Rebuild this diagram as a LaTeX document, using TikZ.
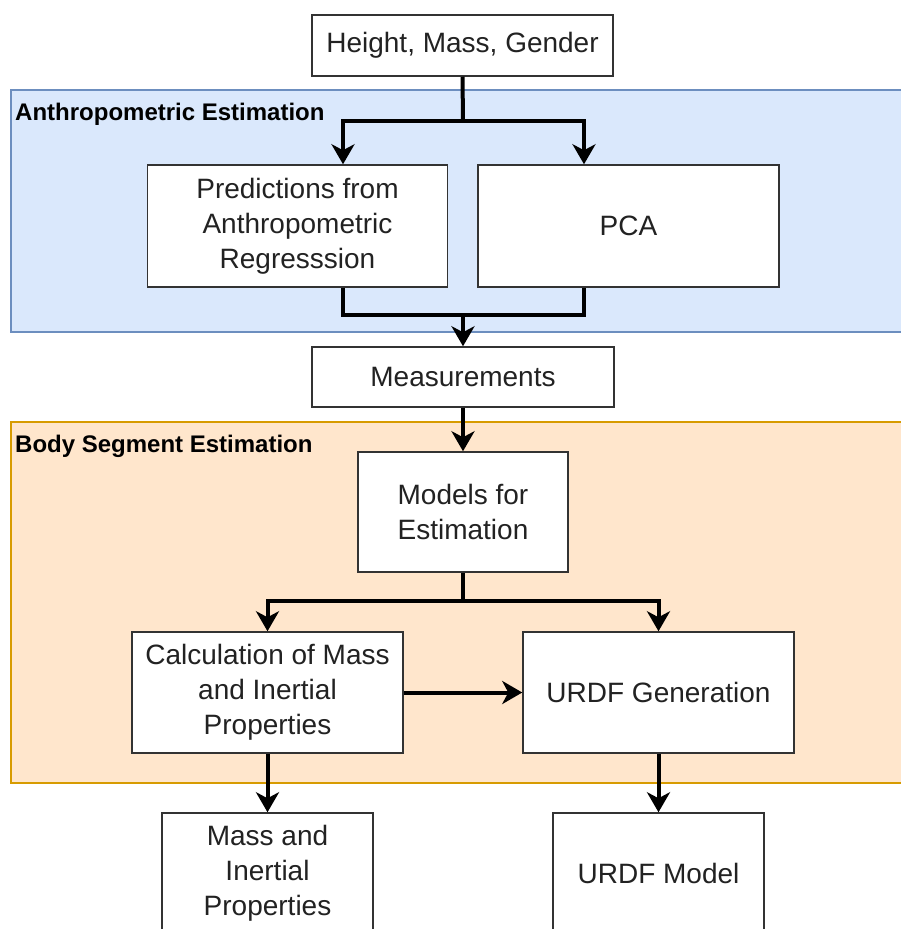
\documentclass[tikz,border=0pt]{standalone}
\usepackage{fontspec}
\setmainfont{Liberation Sans}
\usetikzlibrary{arrows.meta,calc}
\definecolor{bluefill}{HTML}{DAE8FC}
\definecolor{blueline}{HTML}{6C8EBF}
\definecolor{orfill}{HTML}{FFE6CC}
\definecolor{orline}{HTML}{D79B00}
\definecolor{boxline}{HTML}{333333}
\definecolor{txt}{HTML}{222222}
\tikzset{
  box/.style={draw=boxline, line width=1.5pt, fill=white, rectangle, align=center,
    text=txt, font=\fontsize{28}{35}\selectfont, inner sep=0pt},
  conn/.style={line width=4pt, draw=black},
  arr/.style={conn, -{Stealth[length=20pt,width=23pt,inset=6pt]}},
  grouplabel/.style={anchor=west, font=\bfseries\fontsize{24}{28}\selectfont, text=black, inner sep=0pt}
}
\begin{document}
\begin{tikzpicture}[x=1pt,y=-1pt]
\useasboundingbox (0,0) rectangle (901,929);
\clip (0,0) rectangle (901,929);
% groups
\draw[fill=bluefill, draw=blueline, line width=1.5pt] (11,90) rectangle (903,332);
\draw[fill=orfill, draw=orline, line width=1.5pt] (11,422) rectangle (903,783);
\node[grouplabel] (lab1) at (15,114) {Anthropometric Estimation};
\node[grouplabel] (lab2) at (15,446) {Body Segment Estimation};
% boxes
\node[box, minimum width=301, minimum height=61] (hmg) at (462.5,45.5) {Height, Mass, Gender};
\node[box, minimum width=300, minimum height=122] (pred) at (297.5,226) {Predictions from\\Anthropometric\\Regresssion};
\node[box, minimum width=301, minimum height=122] (pca) at (628.5,226) {PCA};
\node[box, minimum width=302, minimum height=60] (meas) at (463,377) {Measurements};
\node[box, minimum width=210, minimum height=120] (models) at (463,512) {Models for\\Estimation};
\node[box, minimum width=271, minimum height=121] (calc) at (267.5,692.5) {Calculation of Mass\\and Inertial\\Properties};
\node[box, minimum width=271, minimum height=121] (urdfg) at (658.5,692.5) {URDF Generation};
\node[box, minimum width=211, minimum height=120] (mass) at (267.5,873) {Mass and\\Inertial\\Properties};
\node[box, minimum width=211, minimum height=120] (urdfm) at (658.5,873) {URDF Model};
% junctions
\coordinate (j0) at (463,121);
\coordinate (j1) at (463,315);
\coordinate (j2) at (463,601);
% connectors
\draw[conn] (hmg.south) -- (j0);
\draw[arr] (j0) -| ([xshift=45.5pt]pred.north);
\draw[arr] (j0) -| ([xshift=-44.5pt]pca.north);
\draw[conn] ([xshift=45.5pt]pred.south) |- (j1) -| ([xshift=-44.5pt]pca.south);
\draw[arr] (j1) -- (meas.north);
\draw[arr] (meas.south) -- (models.north);
\draw[conn] (models.south) -- (j2);
\draw[arr] (j2) -| (calc.north);
\draw[arr] (j2) -| (urdfg.north);
\draw[arr] (calc.east) -- (urdfg.west);
\draw[arr] (calc.south) -- (mass.north);
\draw[arr] (urdfg.south) -- (urdfm.north);
\end{tikzpicture}
\end{document}
